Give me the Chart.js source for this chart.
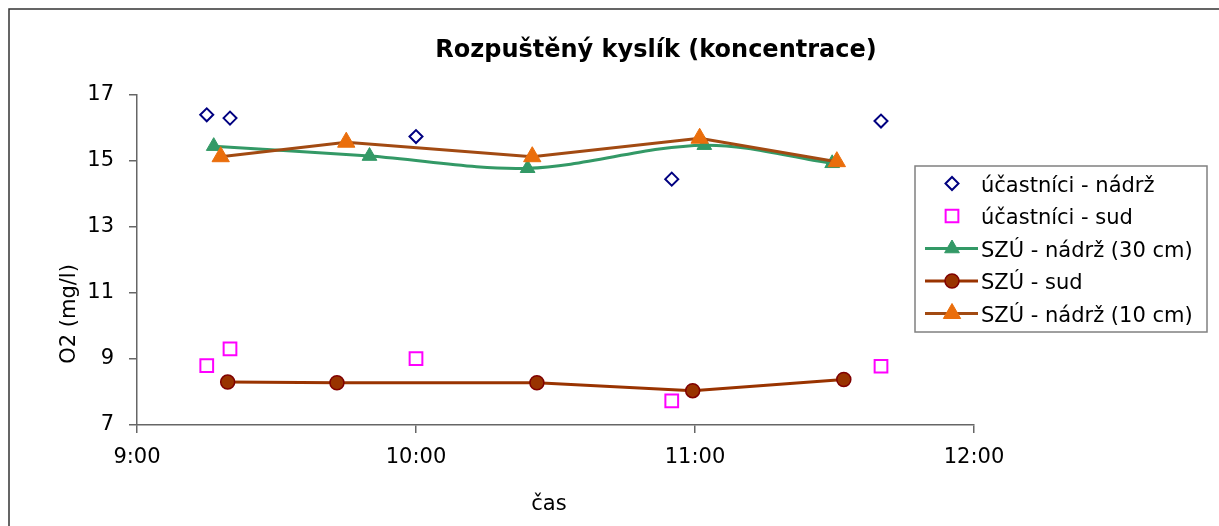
<!DOCTYPE html>
<html>
<head>
<meta charset="utf-8">
<script src="https://cdn.jsdelivr.net/npm/chart.js@4"></script>
<style>
  body { margin: 0; background: #fff; }
  canvas { display: block; }
</style>
</head>
<body>
<canvas id="chart" width="1219" height="526"></canvas>
<script>
// casy mereni (h:mm) a hodnoty O2 (mg/l)
const casUcastNadrz = ['9:15', '9:20', '10:00', '10:55', '11:40'];
const ucastNadrz = [16.40, 16.30, 15.74, 14.45, 16.21];

const casUcastSud = ['9:15', '9:20', '10:00', '10:55', '11:40'];
const ucastSud = [8.80, 9.31, 9.01, 7.73, 8.78];

const casSzuNadrz30 = ['9:16.5', '9:50', '10:24', '11:02', '11:29.5'];
const szuNadrz30 = [15.45, 15.15, 14.78, 15.48, 14.93];

const casSzuSud = ['9:19.5', '9:43', '10:26', '10:59.5', '11:32'];
const szuSud = [8.30, 8.28, 8.28, 8.04, 8.38];

const casSzuNadrz10 = ['9:18', '9:45', '10:25', '11:01', '11:30.5'];
const szuNadrz10 = [15.13, 15.57, 15.13, 15.69, 14.98];

const xTicks = ['9:00', '10:00', '11:00', '12:00'];
const yTicks = [7, 9, 11, 13, 15, 17];

const nazvy = ['účastníci - nádrž', 'účastníci - sud', 'SZÚ - nádrž (30 cm)', 'SZÚ - sud', 'SZÚ - nádrž (10 cm)'];

// "h:mm" -> minuty od pulnoci
function toMin(s) {
    const [h, m] = s.split(':');
    return parseInt(h) * 60 + parseFloat(m);
}
function fmtMin(v) {
    const h = Math.floor(v / 60);
    const m = Math.round(v - h * 60);
    return h + ':' + String(m).padStart(2, '0');
}
function body(casy, hodnoty) {
    return casy.map((c, i) => ({ x: toMin(c), y: hodnoty[i] }));
}

const FONT = "'DejaVu Sans', Verdana, sans-serif";

// popisky, ramecek a legenda kreslene rucne
const decorPlugin = {
    id: 'decor',
    afterDraw(chart) {
        const ctx = chart.ctx;
        ctx.save();

        // ramecek grafu (jen horni a leva hrana jsou videt)
        ctx.strokeStyle = '#333';
        ctx.lineWidth = 1.5;
        ctx.beginPath();
        ctx.moveTo(9, 526);
        ctx.lineTo(9, 9);
        ctx.lineTo(1219, 9);
        ctx.stroke();

        // nadpis
        ctx.fillStyle = '#000';
        ctx.textAlign = 'center';
        ctx.textBaseline = 'alphabetic';
        ctx.font = "bold 24px " + FONT;
        ctx.fillText('Rozpuštěný kyslík (koncentrace)', 656, 57);

        // osa x
        ctx.font = "21px " + FONT;
        ctx.fillText('čas', 549, 510);

        // osa y
        ctx.save();
        ctx.translate(75, 314);
        ctx.rotate(-Math.PI / 2);
        ctx.fillText('O2 (mg/l)', 0, 0);
        ctx.restore();

        // legenda
        const lx = 915, ly = 166, lw = 292, lh = 166;
        ctx.fillStyle = '#fff';
        ctx.fillRect(lx, ly, lw, lh);
        ctx.strokeStyle = '#808080';
        ctx.lineWidth = 1.5;
        ctx.strokeRect(lx, ly, lw, lh);

        chart.data.datasets.forEach((ds, i) => {
            const cy = 183.5 + i * 32.5;
            if (ds.showLine) {
                ctx.strokeStyle = ds.borderColor;
                ctx.lineWidth = ds.borderWidth;
                ctx.beginPath();
                ctx.moveTo(925, cy);
                ctx.lineTo(978, cy);
                ctx.stroke();
            }
            ctx.fillStyle = ds.pointBackgroundColor;
            ctx.strokeStyle = ds.pointBorderColor;
            ctx.lineWidth = ds.pointBorderWidth;
            Chart.helpers.drawPoint(ctx, {
                pointStyle: ds.pointStyle,
                radius: ds.pointRadius,
                rotation: 0,
                borderWidth: ds.pointBorderWidth
            }, 952, cy);

            ctx.fillStyle = '#000';
            ctx.textAlign = 'left';
            ctx.textBaseline = 'alphabetic';
            ctx.font = "21px " + FONT;
            ctx.fillText(ds.label, 981, cy + 8);
        });

        ctx.restore();
    }
};

new Chart(document.getElementById('chart'), {
    type: 'scatter',
    data: {
        datasets: [
            {
                label: nazvy[0],
                data: body(casUcastNadrz, ucastNadrz),
                showLine: false,
                pointStyle: 'rectRot',
                pointRadius: 6.5,
                pointBorderWidth: 2,
                pointBorderColor: '#000080',
                pointBackgroundColor: 'rgba(255,255,255,0)',
                order: 4
            },
            {
                label: nazvy[1],
                data: body(casUcastSud, ucastSud),
                showLine: false,
                pointStyle: 'rect',
                pointRadius: 9,
                pointBorderWidth: 2,
                pointBorderColor: '#FF00FF',
                pointBackgroundColor: 'rgba(255,255,255,0)',
                order: 3
            },
            {
                label: nazvy[2],
                data: body(casSzuNadrz30, szuNadrz30),
                showLine: true,
                borderColor: '#339966',
                borderWidth: 3,
                tension: 0.33,
                pointStyle: 'triangle',
                pointRadius: 8.5,
                pointBorderWidth: 1,
                pointBorderColor: '#339966',
                pointBackgroundColor: '#339966',
                order: 2
            },
            {
                label: nazvy[3],
                data: body(casSzuSud, szuSud),
                showLine: true,
                borderColor: '#993300',
                borderWidth: 3,
                tension: 0,
                pointStyle: 'circle',
                pointRadius: 7,
                pointBorderWidth: 1.5,
                pointBorderColor: '#800000',
                pointBackgroundColor: '#993300',
                order: 1
            },
            {
                label: nazvy[4],
                data: body(casSzuNadrz10, szuNadrz10),
                showLine: true,
                borderColor: '#A24A12',
                borderWidth: 3,
                tension: 0,
                pointStyle: 'triangle',
                pointRadius: 10,
                pointBorderWidth: 1,
                pointBorderColor: '#EA6E0C',
                pointBackgroundColor: '#EA6E0C',
                order: 0
            }
        ]
    },
    options: {
        responsive: false,
        animation: false,
        layout: { padding: { left: 0, top: 95, right: 1219 - 974, bottom: 0 } },
        plugins: {
            legend: { display: false },
            title: { display: false },
            tooltip: { enabled: false }
        },
        scales: {
            x: {
                type: 'linear',
                min: toMin(xTicks[0]),
                max: toMin(xTicks[xTicks.length - 1]),
                afterBuildTicks: scale => { scale.ticks = xTicks.map(t => ({ value: toMin(t) })); },
                afterFit: scale => { scale.height = 526 - 425; },
                ticks: {
                    callback: v => fmtMin(v),
                    color: '#000',
                    font: { family: FONT, size: 21 },
                    padding: 12,
                    maxRotation: 0
                },
                grid: { display: true, drawOnChartArea: false, drawTicks: true, tickLength: 8, color: '#666', lineWidth: 1.5 },
                border: { display: true, color: '#666', width: 1.5 }
            },
            y: {
                min: yTicks[0],
                max: yTicks[yTicks.length - 1],
                afterBuildTicks: scale => { scale.ticks = yTicks.map(v => ({ value: v })); },
                afterFit: scale => { scale.width = 137; },
                ticks: {
                    color: '#000',
                    font: { family: FONT, size: 21 },
                    padding: 15
                },
                grid: { display: true, drawOnChartArea: false, drawTicks: true, tickLength: 8, color: '#666', lineWidth: 1.5 },
                border: { display: true, color: '#666', width: 1.5 }
            }
        }
    },
    plugins: [decorPlugin]
});
</script>
</body>
</html>
